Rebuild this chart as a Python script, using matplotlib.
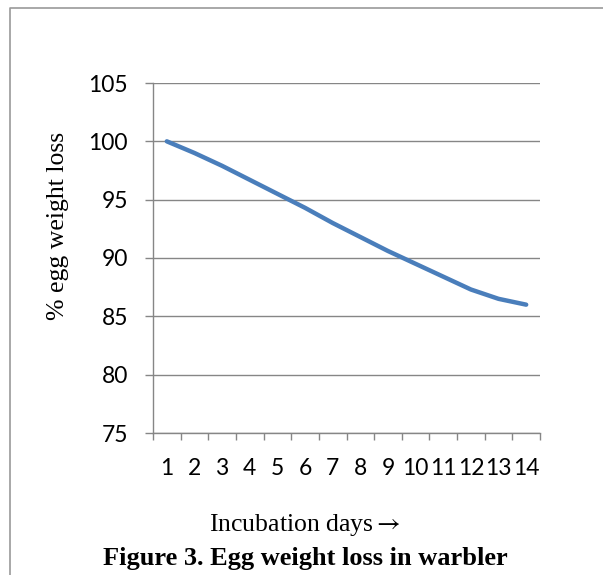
import matplotlib
matplotlib.use("Agg")
import matplotlib.pyplot as plt
from matplotlib.lines import Line2D

# Data
days = list(range(1, 15))
weight_pct = [100, 99.0, 97.9, 96.7, 95.5, 94.3, 93.0, 91.8, 90.6, 89.5, 88.4, 87.3, 86.5, 86.0]
y_ticks = [75, 80, 85, 90, 95, 100, 105]

plt.rcParams['font.family'] = ['Lato', 'DejaVu Sans']
plt.rcParams['mathtext.fontset'] = 'stix'
serif = ['Liberation Serif', 'DejaVu Serif']
grey = '#868686'

W, H = 603, 575
fig = plt.figure(figsize=(W / 100, H / 100), dpi=100)
ax = fig.add_axes([153 / W, 1 - 433 / H, (540 - 153) / W, (433 - 83) / H])

ax.plot(days, weight_pct, color='#4a7ebb', lw=3.2,
        solid_capstyle='round', solid_joinstyle='round', zorder=3)

ax.set_xlim(0.5, 14.5)
ax.set_ylim(75, 105)
ax.set_yticks(y_ticks)
ax.set_xticks(days)
ax.set_xticks([d - 0.5 for d in days] + [days[-1] + 0.5], minor=True)

ax.grid(axis='y', color=grey, lw=1)
ax.set_axisbelow(True)
for side in ['top', 'right']:
    ax.spines[side].set_visible(False)
for side in ['left', 'bottom']:
    ax.spines[side].set_color(grey)
    ax.spines[side].set_linewidth(1)

ax.tick_params(axis='y', length=6, width=1, color=grey, pad=12, labelsize=16.5)
ax.tick_params(axis='x', which='major', length=0, pad=18, labelsize=16.5)
ax.tick_params(axis='x', which='minor', length=5, width=1, color=grey, direction='out')

# axis titles and caption
fig.text(58 / W, 1 - 226 / H, '% egg weight loss', rotation=90, ha='center', va='center',
         fontsize=18.5, family=serif)
fig.text(305 / W, 1 - 531 / H, 'Incubation days$\\rightarrow$', ha='center', va='baseline',
         fontsize=18.5, family=serif)
fig.text(305 / W, 1 - 558 / H, 'Figure 3. Egg weight loss in warbler', ha='center', va='center',
         fontsize=19, fontweight='bold', family=serif)

# outer frame (left and top edges)
fig.add_artist(Line2D([10 / W, 10 / W, 1], [0, 1 - 8 / H, 1 - 8 / H],
                      transform=fig.transFigure, color='#9a9a9a', lw=1.2))

fig.savefig('out.png', dpi=100)
